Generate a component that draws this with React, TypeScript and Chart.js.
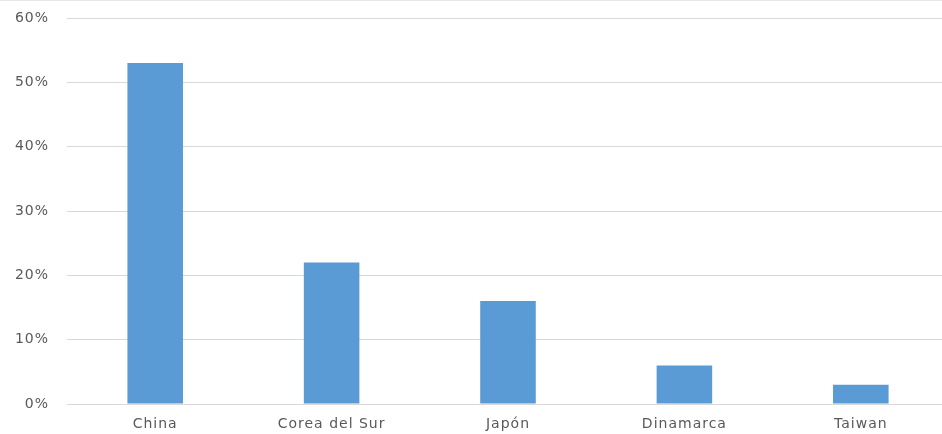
import React, { useEffect, useRef } from "react";
import { Chart, registerables } from "chart.js";

Chart.register(...registerables);

const categories = ["China", "Corea del Sur", "Japón", "Dinamarca", "Taiwan"];
const shares = [53, 22, 16, 6, 3];
const yTicks = [0, 10, 20, 30, 40, 50, 60];

const FONT = "'DejaVu Sans', Verdana, sans-serif";

const spacingPlugin = {
  id: "spacing",
  beforeLayout(chart: any) {
    chart.ctx.letterSpacing = "1px";
  },
  beforeDraw(chart: any) {
    const ctx = chart.ctx;
    ctx.letterSpacing = "1px";
    ctx.save();
    ctx.strokeStyle = "#e6e6e6";
    ctx.lineWidth = 1;
    ctx.beginPath();
    ctx.moveTo(0, 0.5);
    ctx.lineTo(chart.width, 0.5);
    ctx.stroke();
    ctx.restore();
  },
};

export default function App() {
  const ref = useRef<HTMLCanvasElement>(null);
  useEffect(() => {
    if (!ref.current) return;
    const chart = new Chart(ref.current, {
      type: "bar",
      data: {
        labels: categories,
        datasets: [
          {
            data: shares,
            backgroundColor: "#5b9bd5",
            barPercentage: 0.315,
            categoryPercentage: 1,
          },
        ],
      },
      plugins: [spacingPlugin],
      options: {
        animation: false,
        responsive: false,
        maintainAspectRatio: false,
        layout: { padding: { top: 18, left: 0, right: 0, bottom: 0 } },
        plugins: { legend: { display: false }, tooltip: { enabled: false } },
        scales: {
          x: {
            grid: { display: false },
            border: { display: false },
            ticks: {
              color: "#595959",
              font: { family: FONT, size: 14 },
              padding: 4,
              maxRotation: 0,
            },
            afterFit: (s: any) => {
              s.height = 30;
              s.paddingLeft = 0;
              s.paddingRight = 0;
            },
          },
          y: {
            min: 0,
            max: 60,
            afterBuildTicks: (s: any) => {
              s.ticks = yTicks.map((v) => ({ value: v }));
            },
            grid: { color: "#d9d9d9", drawTicks: false, lineWidth: 1 },
            border: { display: false },
            ticks: {
              color: "#595959",
              font: { family: FONT, size: 14 },
              padding: 18,
              callback: (v: any) => v + "%",
            },
            afterFit: (s: any) => {
              s.width = 67;
              s.paddingTop = 0;
              s.paddingBottom = 0;
            },
          },
        },
      },
    });
    return () => chart.destroy();
  }, []);
  return (
    <div style={{ position: "fixed", left: 0, top: 0, width: 942, height: 434, overflow: "hidden", background: "#fff" }}>
      <canvas ref={ref} width={949} height={434} style={{ width: 949, height: 434, display: "block" }} />
    </div>
  );
}
